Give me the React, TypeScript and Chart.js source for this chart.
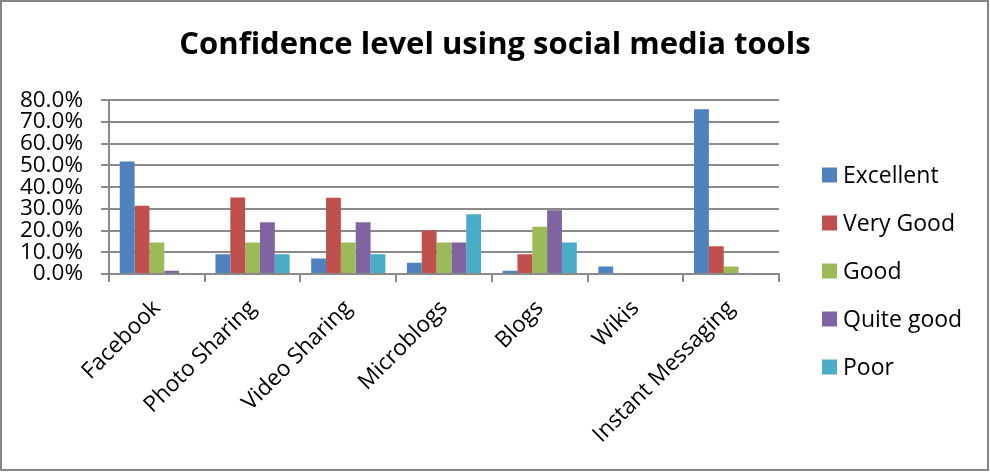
import React, { useEffect, useRef } from "react";
import { Chart, registerables } from "chart.js";
Chart.register(...registerables);

const categories = ["Facebook", "Photo Sharing", "Video Sharing", "Microblogs", "Blogs", "Wikis", "Instant Messaging"];
const seriesNames = ["Excellent", "Very Good", "Good", "Quite good", "Poor"];
const excellent = [51.8, 9.1, 7.1, 5.2, 1.5, 3.4, 75.8];
const veryGood = [31.4, 35.2, 35.1, 20.0, 9.1, 0, 12.8];
const good = [14.5, 14.5, 14.5, 14.5, 21.8, 0, 3.4];
const quiteGood = [1.5, 23.8, 23.8, 14.5, 29.4, 0, 0];
const poor = [0, 9.1, 9.1, 27.5, 14.5, 0, 0];
const seriesValues = [excellent, veryGood, good, quiteGood, poor];
const colors = ["#4F81BD", "#C0504D", "#9BBB59", "#8064A2", "#4BACC6"];
const yMin = 0;
const yMax = 80;
const yStep = 10;
const title = "Confidence level using social media tools";

const FONT = "'Open Sans', 'Noto Sans', sans-serif";
const GRID = "#8a8a8a";

const framePlugin = {
  id: "frame",
  afterDraw(chart: any) {
    const ctx = chart.ctx;
    ctx.save();
    ctx.strokeStyle = "#868686";
    ctx.lineWidth = 2;
    ctx.strokeRect(1, 1, chart.width - 3, chart.height - 4);
    ctx.restore();
  },
};

const legendPlugin = {
  id: "sideLegend",
  afterDraw(chart: any) {
    const ctx = chart.ctx;
    const x = chart.chartArea.right + 43;
    const y0 = 175;
    const gap = 48;
    ctx.save();
    ctx.font = `23px ${FONT}`;
    ctx.textBaseline = "middle";
    ctx.textAlign = "left";
    chart.data.datasets.forEach((ds: any, i: number) => {
      const cy = y0 + i * gap;
      ctx.fillStyle = ds.backgroundColor;
      ctx.fillRect(x, cy - 7.5, 15, 15);
      ctx.fillStyle = "#000";
      ctx.fillText(ds.label, x + 21, cy + 1);
    });
    ctx.restore();
  },
};

export default function App() {
  const ref = useRef<HTMLCanvasElement>(null);
  useEffect(() => {
    document.body.style.margin = "0";
    const chart = new Chart(ref.current!, {
      type: "bar",
      data: {
        labels: categories,
        datasets: seriesNames.map((name, i) => ({
          label: name,
          data: seriesValues[i],
          backgroundColor: colors[i],
          borderWidth: 0,
          categoryPercentage: 0.775,
          barPercentage: 1,
        })),
      },
      options: {
        animation: false,
        responsive: false,
        layout: { padding: 0 },
        plugins: {
          legend: { display: false },
          tooltip: { enabled: false },
          title: {
            display: true,
            text: title,
            color: "#000",
            font: { family: FONT, size: 31, weight: "bold" },
            padding: { top: 27, bottom: 36 },
          },
        },
        scales: {
          x: {
            grid: { display: true, drawOnChartArea: false, drawTicks: true, tickLength: 8, offset: true, color: GRID, lineWidth: 2 },
            border: { display: true, color: GRID, width: 2 },
            ticks: {
              color: "#000",
              font: { family: FONT, size: 22.5 },
              maxRotation: 45,
              minRotation: 45,
              autoSkip: false,
              padding: 13,
            },
            afterFit(scale: any) {
              scale.height = 199;
            },
          },
          y: {
            min: yMin,
            max: yMax,
            ticks: {
              stepSize: yStep,
              autoSkip: false,
              color: "#000",
              font: { family: FONT, size: 22.5 },
              padding: 18,
              callback: (v: any) => Number(v).toFixed(1) + "%",
            },
            grid: { color: GRID, lineWidth: 2, tickLength: 8 },
            border: { display: true, color: GRID, width: 2 },
            afterFit(scale: any) {
              scale.width = 109;
            },
          },
          legendSpace: {
            type: "linear",
            position: "right",
            display: true,
            grid: { display: false, drawTicks: false },
            border: { display: false },
            ticks: { display: false },
            afterFit(scale: any) {
              scale.width = 211;
            },
          },
        },
      },
      plugins: [framePlugin, legendPlugin],
    });
    return () => chart.destroy();
  }, []);
  return <canvas ref={ref} width={990} height={473} style={{ display: "block", width: 990, height: 473 }} />;
}
